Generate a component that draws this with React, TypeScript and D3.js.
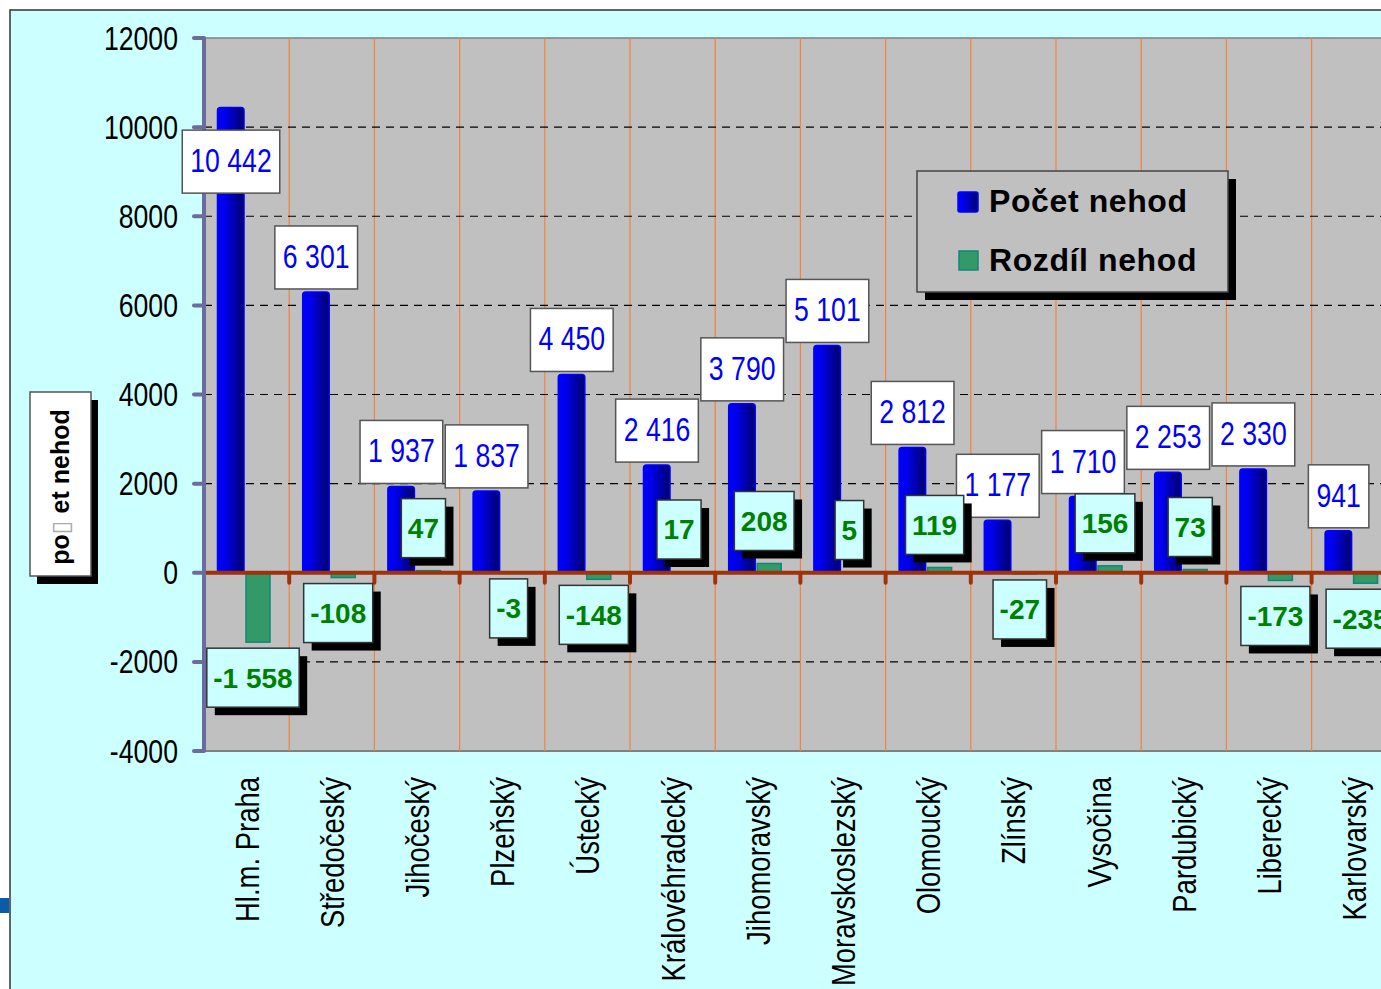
import React, { useRef, useEffect } from 'react';
import * as d3 from 'd3';

// krajské údaje
const regions = [
  'Hl.m. Praha', 'Středočeský', 'Jihočeský', 'Plzeňský', 'Ústecký',
  'Královéhradecký', 'Jihomoravský', 'Moravskoslezský', 'Olomoucký',
  'Zlínský', 'Vysočina', 'Pardubický', 'Liberecký', 'Karlovarský',
];
const pocetNehod = [10442, 6301, 1937, 1837, 4450, 2416, 3790, 5101, 2812, 1177, 1710, 2253, 2330, 941];
const rozdilNehod = [-1558, -108, 47, -3, -148, 17, 208, 5, 119, -27, 156, 73, -173, -235];
const yTicks = [-4000, -2000, 0, 2000, 4000, 6000, 8000, 10000, 12000];
const legendLabels = ['Počet nehod', 'Rozdíl nehod'];

const FONT = 'Liberation Sans, Arial, sans-serif';
const NARROW = 0.82;

export default function App() {
  const ref = useRef(null);

  useEffect(() => {
    const W = 1381, H = 989;
    const svg = d3.select(ref.current);
    svg.selectAll('*').remove();

    const fmt = d3.formatLocale({ decimal: ',', thousands: ' ', grouping: [3], currency: ['', ''], minus: '-' }).format(',d');

    const x = d3.scaleBand().domain(regions).range([204, 204 + 14 * 85.2]).padding(0);
    const y = d3.scaleLinear().domain([-4000, 12000]).range([751, 38]);
    const bw = x.bandwidth();
    const plotRight = 1400;

    const defs = svg.append('defs');
    const grad = defs.append('linearGradient').attr('id', 'blueGrad').attr('x1', 0).attr('x2', 1).attr('y1', 0).attr('y2', 0);
    grad.append('stop').attr('offset', '0%').attr('stop-color', '#0000ff');
    grad.append('stop').attr('offset', '30%').attr('stop-color', '#0000e8');
    grad.append('stop').attr('offset', '100%').attr('stop-color', '#00006c');

    // pozadí
    svg.append('rect').attr('x', 10).attr('y', 10).attr('width', W).attr('height', H)
      .attr('fill', '#ccffff').attr('stroke', '#333').attr('stroke-width', 1.5);
    svg.append('rect').attr('x', 0).attr('y', 898).attr('width', 9).attr('height', 15).attr('fill', '#0a5ca8');

    // plot area
    svg.append('rect').attr('x', 204).attr('y', y(12000)).attr('width', plotRight - 204).attr('height', y(-4000) - y(12000))
      .attr('fill', '#c0c0c0');
    svg.append('line').attr('x1', 204).attr('x2', plotRight).attr('y1', y(12000)).attr('y2', y(12000))
      .attr('stroke', '#808080').attr('stroke-width', 1.5);
    svg.append('line').attr('x1', 204).attr('x2', plotRight).attr('y1', y(-4000)).attr('y2', y(-4000))
      .attr('stroke', '#808080').attr('stroke-width', 2);

    // svislé mřížky
    const bounds = regions.map((r) => x(r) as number).slice(1).concat([(x(regions[regions.length - 1]) as number) + bw]);
    svg.append('g').selectAll('line').data(bounds).enter().append('line')
      .attr('x1', (d) => d).attr('x2', (d) => d).attr('y1', y(12000)).attr('y2', y(-4000))
      .attr('stroke', '#f5813a').attr('stroke-width', 1.2);

    // vodorovné čárkované
    svg.append('g').selectAll('line').data(yTicks.filter((t) => t !== 0 && t !== 12000 && t !== -4000)).enter().append('line')
      .attr('x1', 204).attr('x2', plotRight).attr('y1', (d) => y(d)).attr('y2', (d) => y(d))
      .attr('stroke', '#000').attr('stroke-width', 1.2).attr('stroke-dasharray', '8,6');

    // sloupce
    svg.append('g').selectAll('rect').data(regions).enter().append('rect')
      .attr('x', (d) => (x(d) as number) + 13.5).attr('width', 26.5)
      .attr('y', (d, i) => y(pocetNehod[i])).attr('height', (d, i) => y(0) - y(pocetNehod[i]))
      .attr('rx', 3).attr('fill', 'url(#blueGrad)').attr('stroke', '#0000ff').attr('stroke-width', 1.5);

    svg.append('g').selectAll('rect').data(regions).enter().append('rect')
      .attr('x', (d) => (x(d) as number) + 42).attr('width', 24)
      .attr('y', (d, i) => y(Math.max(0, rozdilNehod[i])))
      .attr('height', (d, i) => Math.abs(y(0) - y(rozdilNehod[i])))
      .attr('fill', '#339966').attr('stroke', '#108878').attr('stroke-width', 1.5);

    // osa 0
    svg.append('line').attr('x1', 204).attr('x2', plotRight).attr('y1', y(0)).attr('y2', y(0))
      .attr('stroke', '#a0320a').attr('stroke-width', 4);
    svg.append('g').selectAll('line').data([204].concat(bounds)).enter().append('line')
      .attr('x1', (d) => d).attr('x2', (d) => d).attr('y1', y(0)).attr('y2', y(0) + 10)
      .attr('stroke', '#a0320a').attr('stroke-width', 4).attr('stroke-linecap', 'round');

    // osa y
    svg.append('line').attr('x1', 204).attr('x2', 204).attr('y1', y(12000)).attr('y2', y(-4000))
      .attr('stroke', '#6b6b9e').attr('stroke-width', 4);
    svg.append('g').selectAll('line').data(yTicks).enter().append('line')
      .attr('x1', 194).attr('x2', 204).attr('y1', (d) => y(d)).attr('y2', (d) => y(d))
      .attr('stroke', '#6b6b9e').attr('stroke-width', 4).attr('stroke-linecap', 'round');
    svg.append('g').selectAll('text').data(yTicks).enter().append('text')
      .attr('transform', (d) => `translate(178,${y(d) + 11.5}) scale(${NARROW},1)`)
      .attr('text-anchor', 'end').attr('font-family', FONT).attr('font-size', 32.5).attr('fill', '#000')
      .text((d) => d);

    // popisky modrých sloupců
    const minTop = y(10000) + 3;
    regions.forEach((r, i) => {
      const cx = (x(r) as number) + 27;
      const g = svg.append('g');
      const box = g.append('rect');
      const t = g.append('text').attr('font-family', FONT).attr('font-size', 32.5).attr('fill', '#0000ff')
        .attr('text-anchor', 'middle').text(fmt(pocetNehod[i]));
      const tw = (t.node() as SVGTextElement).getComputedTextLength() * NARROW;
      const bwid = tw + 16;
      const top = Math.max(y(pocetNehod[i]) - 3 - 63, minTop);
      box.attr('x', cx - bwid / 2).attr('y', top).attr('width', bwid).attr('height', 63)
        .attr('fill', '#fff').attr('stroke', '#555').attr('stroke-width', 1.5);
      t.attr('transform', `translate(${cx},${top + 42}) scale(${NARROW},1)`);
    });

    // popisky rozdílu
    regions.forEach((r, i) => {
      const v = rozdilNehod[i];
      const cx = (x(r) as number) + 54 - 5;
      const g = svg.append('g');
      const shadow = g.append('rect');
      const box = g.append('rect');
      const t = g.append('text').attr('font-family', FONT).attr('font-size', 28).attr('font-weight', 'bold')
        .attr('fill', '#008000').attr('text-anchor', 'middle').text(fmt(v));
      const tw = (t.node() as SVGTextElement).getComputedTextLength();
      const bwid = tw + 13, bh = 59;
      const top = v < 0 ? y(v) + 6 : y(v) - 13 - bh;
      shadow.attr('x', cx - bwid / 2 + 8).attr('y', top + 8).attr('width', bwid).attr('height', bh).attr('fill', '#000');
      box.attr('x', cx - bwid / 2).attr('y', top).attr('width', bwid).attr('height', bh)
        .attr('fill', '#ccffff').attr('stroke', '#333').attr('stroke-width', 1.5);
      t.attr('x', cx).attr('y', top + bh / 2 + 10);
    });

    // legenda
    const lg = svg.append('g');
    lg.append('rect').attr('x', 925).attr('y', 179).attr('width', 311).attr('height', 121).attr('fill', '#000');
    lg.append('rect').attr('x', 917).attr('y', 171).attr('width', 311).attr('height', 121)
      .attr('fill', '#c0c0c0').attr('stroke', '#444').attr('stroke-width', 1.5);
    lg.append('rect').attr('x', 958).attr('y', 192).attr('width', 20).attr('height', 20).attr('rx', 2)
      .attr('fill', 'url(#blueGrad)').attr('stroke', '#0000ff').attr('stroke-width', 1.5);
    lg.append('rect').attr('x', 959).attr('y', 251).attr('width', 19).attr('height', 19)
      .attr('fill', '#339966').attr('stroke', '#108878').attr('stroke-width', 1.5);
    lg.selectAll('text.lt').data(legendLabels).enter().append('text')
      .attr('x', 989).attr('y', (d, i) => 212 + i * 59)
      .attr('font-family', FONT).attr('font-size', 32).attr('font-weight', 'bold').attr('fill', '#000')
      .attr('letter-spacing', 0.6).text((d) => d);

    // název osy y
    const yt = svg.append('g');
    yt.append('rect').attr('x', 37).attr('y', 400).attr('width', 61).attr('height', 184).attr('fill', '#000');
    yt.append('rect').attr('x', 30).attr('y', 392).attr('width', 61).attr('height', 184)
      .attr('fill', '#fff').attr('stroke', '#555').attr('stroke-width', 1.5);
    const ytt = yt.append('text').attr('transform', 'translate(69,487) rotate(-90)')
      .attr('text-anchor', 'middle').attr('font-family', FONT).attr('font-size', 25).attr('font-weight', 'bold');
    ytt.append('tspan').text('po');
    ytt.append('tspan').attr('fill', '#aaa').attr('font-weight', 'normal').attr('font-family', 'DejaVu Sans').text('\u25AF');
    ytt.append('tspan').text(' et nehod');

    // popisky osy x
    svg.append('g').selectAll('text').data(regions).enter().append('text')
      .attr('transform', (d) => `translate(${(x(d) as number) + bw / 2 + 12},777) rotate(-90) scale(${NARROW},1)`)
      .attr('text-anchor', 'end').attr('font-family', FONT).attr('font-size', 33.5).attr('fill', '#000')
      .text((d) => d);
  }, []);

  return (
    <div>
      <svg ref={ref} width={1381} height={989}
        style={{ position: 'absolute', left: 0, top: 0, display: 'block', background: '#fff' }} />
    </div>
  );
}
